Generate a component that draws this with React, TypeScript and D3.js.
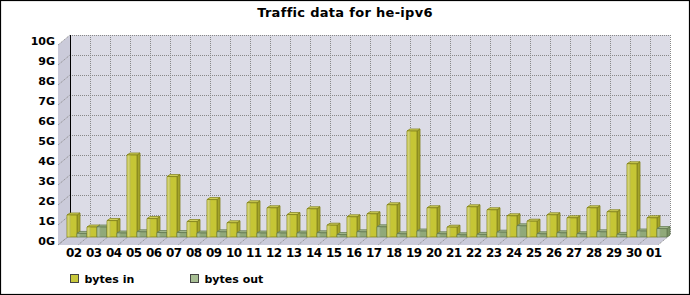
import React from "react";
import * as d3 from "d3";

const categories = ["02","03","04","05","06","07","08","09","10","11","12","13","14","15","16","17","18","19","20","21","22","23","24","25","26","27","28","29","30","01"];
const bytesIn = [1.1,0.5,0.82,4.1,0.92,3.02,0.77,1.87,0.71,1.71,1.46,1.12,1.41,0.59,1.01,1.16,1.61,5.3,1.46,0.49,1.51,1.36,1.06,0.79,1.11,0.96,1.46,1.26,3.66,0.96];
const bytesOut = [0.18,0.5,0.2,0.26,0.22,0.22,0.2,0.26,0.21,0.2,0.2,0.2,0.21,0.12,0.26,0.51,0.16,0.3,0.16,0.11,0.13,0.24,0.56,0.16,0.21,0.16,0.26,0.13,0.3,0.42];
const seriesNames = ["bytes in", "bytes out"];
const yTicks = [0,1,2,3,4,5,6,7,8,9,10];
const yTickLabels = ["0G","1G","2G","3G","4G","5G","6G","7G","8G","9G","10G"];

const W = 690, H = 295;
const PL = 70, PR = 670, PT = 35, PB = 235;
const WX = 12, WY = 10; // wall depth
const DX = 3, DY = 2;   // bar depth
const FONT = "'DejaVu Sans', sans-serif";

const palettes = [
  { main: "#c6c635", strip: "#d3d372", top: "#d6d65c", side: "#a4a42a", stroke: "#80801a", legend: "#c8c83c" },
  { main: "#90a97a", strip: "#aabe98", top: "#a6bb90", side: "#7a9366", stroke: "#627850", legend: "#a8bf94" },
];

export default function App() {
  const x = d3.scaleBand<string>().domain(categories).range([PL, PR]).paddingInner(0).paddingOuter(0);
  const sub = d3.scaleBand<string>().domain(seriesNames).range([0, x.bandwidth()]).padding(0);
  const y = d3.scaleLinear().domain([0, 10]).range([PB, PT]);
  const gridX = d3.range(categories.length + 1).map((k) => PL + k * x.step());
  const bw = sub.bandwidth();

  const bars: JSX.Element[] = [];
  categories.forEach((c, i) => {
    [bytesIn[i], bytesOut[i]].forEach((v, s) => {
      const p = palettes[s];
      const fx = (x(c) as number) + (sub(seriesNames[s]) as number) - DX;
      const fyT = y(v) + DY;
      const fyB = y(0) + DY;
      bars.push(
        <g key={c + s} stroke={p.stroke} strokeWidth={0.8} strokeLinejoin="round">
          <polygon fill={p.side} points={`${fx + bw},${fyT} ${fx + bw + DX},${fyT - DY} ${fx + bw + DX},${fyB - DY} ${fx + bw},${fyB}`} />
          <polygon fill={p.top} points={`${fx},${fyT} ${fx + DX},${fyT - DY} ${fx + bw + DX},${fyT - DY} ${fx + bw},${fyT}`} />
          <rect x={fx} y={fyT} width={bw} height={fyB - fyT} fill={p.main} />
          <rect x={fx + 0.4} y={fyT + 0.4} width={DX} height={Math.max(0, fyB - fyT - 0.8)} fill={p.strip} stroke="none" />
          <line x1={fx + DX} x2={fx + DX} y1={fyT} y2={fyB} stroke={p.stroke} strokeOpacity={0.35} />
        </g>
      );
    });
  });

  return (
    <div style={{ position: "absolute", left: 0, top: 0 }}>
      <svg width={W} height={H} style={{ display: "block", background: "#fff" }} fontFamily={FONT}>
        <rect x={0.5} y={0.5} width={W - 1} height={H - 1} fill="#fff" stroke="#000" strokeWidth={1.2} />
        <text x={W / 2} y={17} textAnchor="middle" fontSize={13} fontWeight="bold" letterSpacing={0.3}>Traffic data for he-ipv6</text>

        {/* walls */}
        <rect x={PL} y={PT} width={PR - PL} height={PB - PT} fill="#dcdce6" />
        <polygon points={`${PL - WX},${PT + WY} ${PL},${PT} ${PL},${PB} ${PL - WX},${PB + WY}`} fill="#cbcbda" />
        <polygon points={`${PL},${PB} ${PR},${PB} ${PR - WX},${PB + WY} ${PL - WX},${PB + WY}`} fill="#cbcbda" />

        {/* gridlines */}
        <g stroke="#888" strokeWidth={1} strokeDasharray="1,1" fill="none">
          {yTicks.map((t) => (
            <line key={"h" + t} x1={PL} x2={PR} y1={Math.round(y(t)) + 0.5} y2={Math.round(y(t)) + 0.5} />
          ))}
          {gridX.map((gx, k) => (
            <line key={"v" + k} x1={Math.round(gx) + 0.5} x2={Math.round(gx) + 0.5} y1={PT} y2={PB} />
          ))}
          {yTicks.map((t) => (
            <line key={"d" + t} x1={PL - WX} y1={y(t) + WY} x2={PL} y2={y(t)} />
          ))}
          {gridX.map((gx, k) => (
            <line key={"f" + k} x1={gx} y1={PB} x2={gx - WX} y2={PB + WY} />
          ))}
        </g>
        <line x1={PL + 0.5} x2={PL + 0.5} y1={PT} y2={PB} stroke="#000" strokeWidth={1} />

        {bars}

        {/* y labels */}
        {yTicks.map((t, i) => (
          <text key={"yl" + t} x={55} y={y(t) + 10} textAnchor="end" fontSize={11} fontWeight="bold">{yTickLabels[i]}</text>
        ))}
        {/* x labels */}
        {categories.map((c) => (
          <text key={"xl" + c} x={(x(c) as number) + x.bandwidth() / 2 - 6.2} y={257} textAnchor="middle" fontSize={12} fontWeight="bold" letterSpacing={-0.6}>{c}</text>
        ))}

        {/* legend */}
        {seriesNames.map((s, i) => {
          const lx = 70.5 + i * 120;
          return (
            <g key={"lg" + s}>
              <rect x={lx} y={274.5} width={8} height={8} fill={palettes[i].legend} stroke="#444" strokeWidth={1} />
              <text x={lx + 14} y={283} fontSize={11} fontWeight="bold">{s}</text>
            </g>
          );
        })}
      </svg>
    </div>
  );
}
